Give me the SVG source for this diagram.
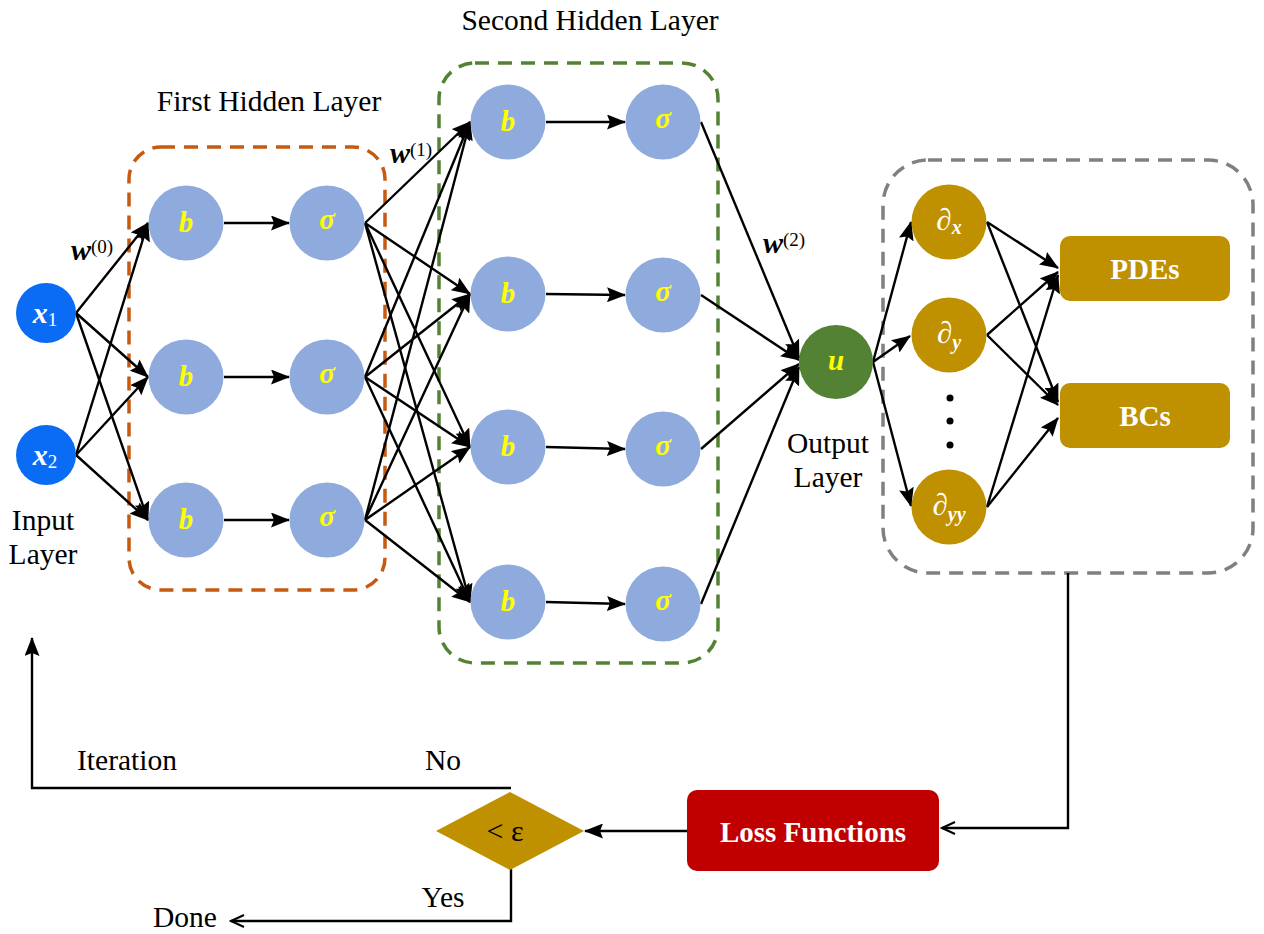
<svg xmlns="http://www.w3.org/2000/svg" width="1264" height="934" viewBox="0 0 1264 934">
<style>
text{font-family:"Liberation Serif","Times New Roman",serif;}
.lbl{font-size:29.5px;fill:#000;}
.nl{font-size:29px;font-weight:bold;font-style:italic;fill:#FFFF00;}
.hid{fill:#8FAADC;}
.inp{fill:#0A6CF5;}
.der{fill:#BF9000;}
.c{stroke:#000;stroke-width:2.4;fill:none;}
.a{marker-end:url(#ah);}
.o{marker-end:url(#oh);}
.wl{font-size:30px;font-weight:bold;font-style:italic;}
.sup{font-size:19px;font-weight:normal;font-style:normal;}
.bt{fill:#fff;font-size:29px;font-weight:bold;}
</style>
<defs>
<marker id="ah" markerUnits="userSpaceOnUse" markerWidth="19" markerHeight="15" refX="18" refY="7.5" orient="auto">
<path d="M0,0 L19,7.5 L0,15 L3,7.5 z" fill="#000"/>
</marker>
<marker id="oh" markerUnits="userSpaceOnUse" markerWidth="16" markerHeight="14" refX="14" refY="7" orient="auto">
<path d="M1,1 L14,7 L1,13" fill="none" stroke="#000" stroke-width="2"/>
</marker>
</defs>
<rect width="1264" height="934" fill="#fff"/>

<g id="groups">
<rect x="129" y="147" width="256" height="443" rx="32" fill="none" stroke="#C55A11" stroke-width="3.5" stroke-dasharray="14 9"/>
<rect x="439" y="63" width="279" height="600" rx="36" fill="none" stroke="#548235" stroke-width="3.5" stroke-dasharray="14 9"/>
<rect x="883" y="160" width="370" height="413" rx="45" fill="none" stroke="#808080" stroke-width="3.5" stroke-dasharray="14 9"/>
</g>

<g id="titles">
<text class="lbl" x="269" y="111" text-anchor="middle">First Hidden Layer</text>
<text class="lbl" x="590" y="30" text-anchor="middle">Second Hidden Layer</text>
<text class="lbl" x="43" y="530" text-anchor="middle">Input</text>
<text class="lbl" x="43" y="564" text-anchor="middle">Layer</text>
<text class="lbl" x="828" y="453" text-anchor="middle">Output</text>
<text class="lbl" x="828" y="487" text-anchor="middle">Layer</text>
<text class="wl" x="71" y="260">w<tspan class="sup" dy="-7">(0)</tspan></text>
<text class="wl" x="390" y="163">w<tspan class="sup" dy="-7">(1)</tspan></text>
<text class="wl" x="763" y="253">w<tspan class="sup" dy="-7">(2)</tspan></text>
<text class="lbl" x="127" y="770" text-anchor="middle">Iteration</text>
<text class="lbl" x="443" y="770" text-anchor="middle">No</text>
<text class="lbl" x="443" y="907" text-anchor="middle">Yes</text>
<text class="lbl" x="185" y="927" text-anchor="middle">Done</text>
</g>

<g id="connectors">
<line class="c a" x1="76" y1="313" x2="148" y2="223"/>
<line class="c a" x1="76" y1="313" x2="148" y2="377"/>
<line class="c a" x1="76" y1="313" x2="148" y2="520"/>
<line class="c a" x1="76" y1="455" x2="148" y2="223"/>
<line class="c a" x1="76" y1="455" x2="148" y2="377"/>
<line class="c a" x1="76" y1="455" x2="148" y2="520"/>
<line class="c a" x1="224" y1="223" x2="289" y2="223"/>
<line class="c a" x1="224" y1="377" x2="289" y2="377"/>
<line class="c a" x1="224" y1="520" x2="289" y2="520"/>
<line class="c a" x1="365" y1="223" x2="470" y2="122"/>
<line class="c a" x1="365" y1="223" x2="470" y2="294"/>
<line class="c a" x1="365" y1="223" x2="470" y2="447"/>
<line class="c a" x1="365" y1="223" x2="470" y2="602"/>
<line class="c a" x1="365" y1="377" x2="470" y2="122"/>
<line class="c a" x1="365" y1="377" x2="470" y2="294"/>
<line class="c a" x1="365" y1="377" x2="470" y2="447"/>
<line class="c a" x1="365" y1="377" x2="470" y2="602"/>
<line class="c a" x1="365" y1="520" x2="470" y2="122"/>
<line class="c a" x1="365" y1="520" x2="470" y2="294"/>
<line class="c a" x1="365" y1="520" x2="470" y2="447"/>
<line class="c a" x1="365" y1="520" x2="470" y2="602"/>
<line class="c a" x1="546" y1="122" x2="625" y2="122"/>
<line class="c a" x1="546" y1="294" x2="625" y2="295"/>
<line class="c a" x1="546" y1="447" x2="625" y2="449"/>
<line class="c a" x1="546" y1="602" x2="625" y2="604"/>
<line class="c a" x1="701" y1="122" x2="799" y2="358"/>
<line class="c a" x1="701" y1="295" x2="799" y2="360"/>
<line class="c a" x1="701" y1="449" x2="799" y2="364"/>
<line class="c a" x1="701" y1="604" x2="799" y2="367"/>
<line class="c a" x1="873" y1="362" x2="911" y2="222"/>
<line class="c a" x1="873" y1="362" x2="910" y2="336"/>
<line class="c a" x1="873" y1="362" x2="911" y2="506"/>
<line class="c a" x1="987" y1="222" x2="1058" y2="268"/>
<line class="c a" x1="987" y1="222" x2="1058" y2="402"/>
<line class="c a" x1="987" y1="335" x2="1058" y2="272"/>
<line class="c a" x1="987" y1="335" x2="1058" y2="405"/>
<line class="c a" x1="987" y1="507" x2="1058" y2="275"/>
<line class="c a" x1="987" y1="507" x2="1058" y2="418"/>
<polyline class="c o" points="1068,573 1068,828 942,828"/>
<line class="c a" x1="687" y1="831" x2="585" y2="831"/>
<polyline class="c a" points="511,788 32,788 32,638"/>
<polyline class="c o" points="511,869 511,921 231,921"/>
</g>

<g id="input-x1"><circle class="inp" cx="46" cy="313" r="30"/><text x="45" y="323" text-anchor="middle" fill="#fff" font-size="30"><tspan font-weight="bold" font-style="italic">x</tspan><tspan font-size="19" dy="3">1</tspan></text></g>
<g id="input-x2"><circle class="inp" cx="46" cy="455" r="30"/><text x="45" y="465" text-anchor="middle" fill="#fff" font-size="30"><tspan font-weight="bold" font-style="italic">x</tspan><tspan font-size="19" dy="3">2</tspan></text></g>

<g id="h1-b1"><circle class="hid" cx="186" cy="223" r="37.5"/><text class="nl" x="186" y="232" text-anchor="middle">b</text></g>
<g id="h1-b2"><circle class="hid" cx="186" cy="377" r="37.5"/><text class="nl" x="186" y="386" text-anchor="middle">b</text></g>
<g id="h1-b3"><circle class="hid" cx="186" cy="520" r="37.5"/><text class="nl" x="186" y="529" text-anchor="middle">b</text></g>
<g id="h1-s1"><circle class="hid" cx="327" cy="223" r="37.5"/><text class="nl" x="327" y="229" text-anchor="middle">σ</text></g>
<g id="h1-s2"><circle class="hid" cx="327" cy="377" r="37.5"/><text class="nl" x="327" y="383" text-anchor="middle">σ</text></g>
<g id="h1-s3"><circle class="hid" cx="327" cy="520" r="37.5"/><text class="nl" x="327" y="526" text-anchor="middle">σ</text></g>

<g id="h2-b1"><circle class="hid" cx="508" cy="122" r="37.5"/><text class="nl" x="508" y="131" text-anchor="middle">b</text></g>
<g id="h2-b2"><circle class="hid" cx="508" cy="294" r="37.5"/><text class="nl" x="508" y="303" text-anchor="middle">b</text></g>
<g id="h2-b3"><circle class="hid" cx="508" cy="447" r="37.5"/><text class="nl" x="508" y="456" text-anchor="middle">b</text></g>
<g id="h2-b4"><circle class="hid" cx="508" cy="602" r="37.5"/><text class="nl" x="508" y="611" text-anchor="middle">b</text></g>
<g id="h2-s1"><circle class="hid" cx="663" cy="122" r="37.5"/><text class="nl" x="663" y="128" text-anchor="middle">σ</text></g>
<g id="h2-s2"><circle class="hid" cx="663" cy="295" r="37.5"/><text class="nl" x="663" y="301" text-anchor="middle">σ</text></g>
<g id="h2-s3"><circle class="hid" cx="663" cy="449" r="37.5"/><text class="nl" x="663" y="455" text-anchor="middle">σ</text></g>
<g id="h2-s4"><circle class="hid" cx="663" cy="604" r="37.5"/><text class="nl" x="663" y="610" text-anchor="middle">σ</text></g>

<g id="output-u"><circle cx="836" cy="362" r="37" fill="#548235"/><text class="nl" x="836" y="370" text-anchor="middle">u</text></g>

<g id="d-x"><circle class="der" cx="949" cy="222" r="37.5"/><text x="949" y="230" text-anchor="middle" fill="#fff" font-size="31"><tspan>∂</tspan><tspan font-size="20" font-style="italic" font-weight="bold" dy="4">x</tspan></text></g>
<g id="d-y"><circle class="der" cx="949" cy="335" r="37.5"/><text x="949" y="343" text-anchor="middle" fill="#fff" font-size="31"><tspan>∂</tspan><tspan font-size="20" font-style="italic" font-weight="bold" dy="6">y</tspan></text></g>
<g id="d-dots"><circle cx="950" cy="398" r="3.5"/><circle cx="950" cy="421" r="3.5"/><circle cx="950" cy="445" r="3.5"/></g>
<g id="d-yy"><circle class="der" cx="949" cy="507" r="37.5"/><text x="949" y="515" text-anchor="middle" fill="#fff" font-size="31"><tspan>∂</tspan><tspan font-size="20" font-style="italic" font-weight="bold" dy="6">yy</tspan></text></g>

<g id="pdes"><rect x="1060" y="236" width="170" height="65" rx="10" fill="#BF9000"/><text class="bt" x="1145" y="279" text-anchor="middle">PDEs</text></g>
<g id="bcs"><rect x="1060" y="383" width="170" height="65" rx="10" fill="#BF9000"/><text class="bt" x="1145" y="426" text-anchor="middle">BCs</text></g>

<g id="loss"><rect x="687" y="790" width="252" height="81" rx="10" fill="#C00000"/><text class="bt" x="813" y="842" text-anchor="middle">Loss Functions</text></g>
<g id="check"><polygon points="510,792 584,831 510,870 436,831" fill="#BF9000"/><text x="505" y="841" text-anchor="middle" font-size="30">&lt; ε</text></g>
</svg>
